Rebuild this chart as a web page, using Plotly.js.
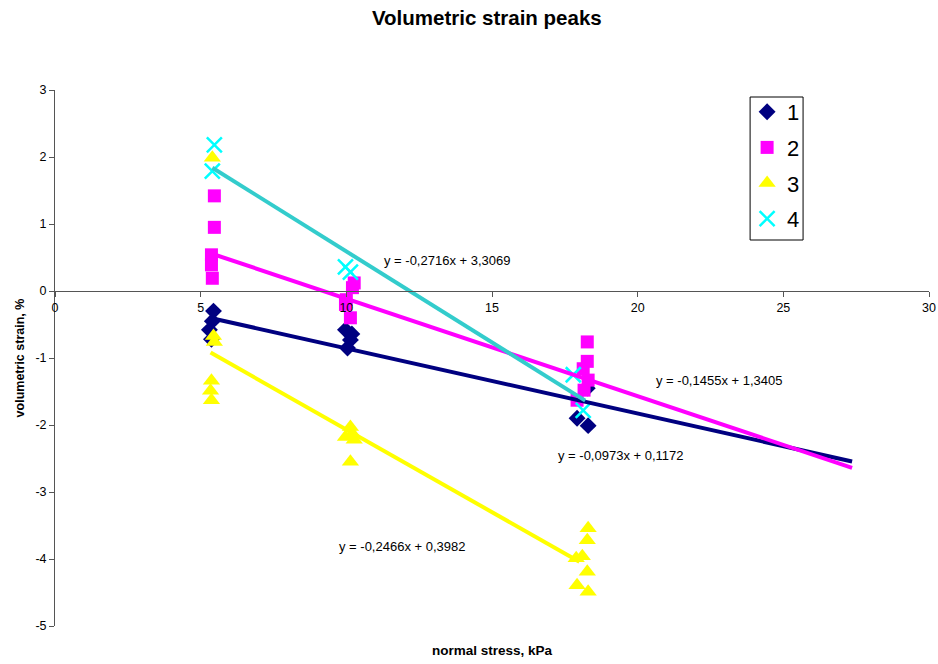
<!DOCTYPE html>
<html>
<head>
<meta charset="utf-8">
<script src="https://cdn.plot.ly/plotly-3.0.1.min.js"></script>
<style>html,body{margin:0;padding:0;background:#fff;}#chart{width:938px;height:664px;}</style>
</head>
<body>
<div id="chart"></div>
<script>
// Series 1 (navy diamonds)
const x1 = [5.44, 5.40, 5.30, 5.37, 9.97, 10.19, 10.14, 10.04, 17.92, 18.30, 18.27];
const y1 = [-0.30, -0.45, -0.58, -0.72, -0.58, -0.64, -0.73, -0.85, -1.90, -2.01, -1.45];
// Series 2 (magenta squares)
const x2 = [5.47, 5.47, 5.37, 5.37, 5.40, 10.27, 10.21, 10.00, 9.97, 10.14, 18.27, 18.27, 18.13, 18.30, 18.16, 17.92];
const y2 = [1.42, 0.95, 0.54, 0.39, 0.19, 0.12, 0.05, -0.13, -0.20, -0.40, -0.76, -1.05, -1.16, -1.33, -1.48, -1.63];
// Series 3 (yellow triangles)
const x3 = [5.40, 5.44, 5.47, 5.37, 5.34, 5.37, 10.14, 10.21, 9.97, 10.27, 10.14, 18.30, 18.27, 18.10, 17.89, 18.27, 17.92, 18.30];
const y3 = [1.99, -0.67, -0.76, -1.34, -1.49, -1.63, -2.03, -2.13, -2.18, -2.22, -2.55, -3.54, -3.72, -3.96, -3.99, -4.19, -4.39, -4.49];
// Series 4 (cyan crosses)
const x4 = [5.47, 5.40, 9.97, 10.14, 17.79, 18.13];
const y4 = [2.18, 1.79, 0.36, 0.28, -1.25, -1.78];

const seriesNames = ["1", "2", "3", "4"];
// Linear trendlines (from the equations shown)
const slopes = [-0.0973, -0.1455, -0.2466, -0.2716];
const intercepts = [0.1172, 1.3405, 0.3982, 3.3069];
const trendStart = [5.34, 5.34, 5.34, 5.40];
const trendEnd = [27.36, 27.36, 18.0, 18.2];
const eqLabels = ["y = -0,0973x + 0,1172", "y = -0,1455x + 1,3405", "y = -0,2466x + 0,3982", "y = -0,2716x + 3,3069"];
const eqPosX = [17.20, 20.57, 9.69, 11.23];
const eqPosY = [-2.46, -1.33, -3.82, 0.45];

const xTicks = [0, 5, 10, 15, 20, 25, 30];
const yTicks = [3, 2, 1, 0, -1, -2, -3, -4, -5];

const FONT = "Liberation Sans, Arial, sans-serif";
const markerColors = ["#000080", "#FF00FF", "#FFFF00", "#00FFFF"];
const lineColors = ["#000080", "#FF00FF", "#FFFF00", "#33CCCC"];

const xs = [x1, x2, x3, x4], ys = [y1, y2, y3, y4];
const markers = [
  {symbol: "diamond", size: 13, color: markerColors[0]},
  {symbol: "square", size: 13, color: markerColors[1]},
  {symbol: "triangle-up", size: 15, color: markerColors[2]},
  {symbol: "x-thin-open", size: 15, color: markerColors[3], line: {color: markerColors[3], width: 2.5}}
];

const traces = [];
for (let i = 0; i < 4; i++) {
  traces.push({
    type: "scatter", mode: "markers", name: seriesNames[i],
    x: xs[i], y: ys[i], marker: markers[i], legendgroup: "g" + i,
    cliponaxis: false
  });
}
for (let i = 0; i < 4; i++) {
  const tx = [trendStart[i], trendEnd[i]];
  traces.push({
    type: "scatter", mode: "lines", showlegend: false, hoverinfo: "skip",
    x: tx, y: tx.map(v => slopes[i] * v + intercepts[i]),
    line: {color: lineColors[i], width: 4}
  });
}

const annotations = eqLabels.map((t, i) => ({
  x: eqPosX[i], y: eqPosY[i], xref: "x", yref: "y", text: t, showarrow: false,
  xanchor: "left", yanchor: "middle",
  font: {family: FONT, size: 13, color: "#000"}
}));
annotations.push({
  x: 0.5, y: -0.0448, xref: "paper", yref: "paper", text: "<b>normal stress, kPa</b>", showarrow: false,
  xanchor: "center", yanchor: "middle",
  font: {family: FONT, size: 13.5, color: "#000"}
});

const layout = {
  width: 938, height: 664,
  margin: {l: 54.5, r: 9, t: 90, b: 38},
  paper_bgcolor: "#fff", plot_bgcolor: "#fff",
  font: {family: FONT, size: 12, color: "#000"},
  title: {text: "<b>Volumetric strain peaks</b>", x: 0.519, xanchor: "center", y: 0.973, yanchor: "middle",
          font: {family: FONT, size: 20.5, color: "#000"}},
  xaxis: {
    range: [0, 30], tickvals: xTicks, ticktext: xTicks.map(String),
    anchor: "free", position: 0.625, showgrid: false, zeroline: false,
    showline: true, linecolor: "#555", linewidth: 1,
    ticks: "outside", ticklen: 5, tickcolor: "#555",
    tickfont: {family: FONT, size: 12.5, color: "#000"}
  },
  yaxis: {
    range: [-5, 3], tickvals: yTicks, ticktext: yTicks.map(String),
    showgrid: false, zeroline: false,
    showline: true, linecolor: "#555", linewidth: 1,
    ticks: "outside", ticklen: 5, tickcolor: "#555",
    tickfont: {family: FONT, size: 12.5, color: "#000"},
    title: {text: "<b>volumetric strain, %</b>", font: {family: FONT, size: 12.5, color: "#000"}, standoff: 8}
  },
  showlegend: true,
  legend: {
    x: (747 - 54.5) / 874.5, y: (626 - 91) / 536, xanchor: "left", yanchor: "top",
    bgcolor: "rgba(0,0,0,0)", borderwidth: 0,
    font: {family: FONT, size: 22, color: "#000"},
    traceorder: "grouped", tracegroupgap: 4, itemwidth: 30
  },
  shapes: [{
    type: "rect", xref: "paper", yref: "paper", layer: "above",
    x0: (750 - 54.5) / 874.5, x1: (803 - 54.5) / 874.5,
    y0: (626 - 240) / 536, y1: (626 - 97) / 536,
    line: {color: "#000", width: 1}, fillcolor: "#fff"
  }],
  annotations: annotations
};

Plotly.newPlot("chart", traces, layout, {displayModeBar: false, staticPlot: true});
</script>
</body>
</html>
